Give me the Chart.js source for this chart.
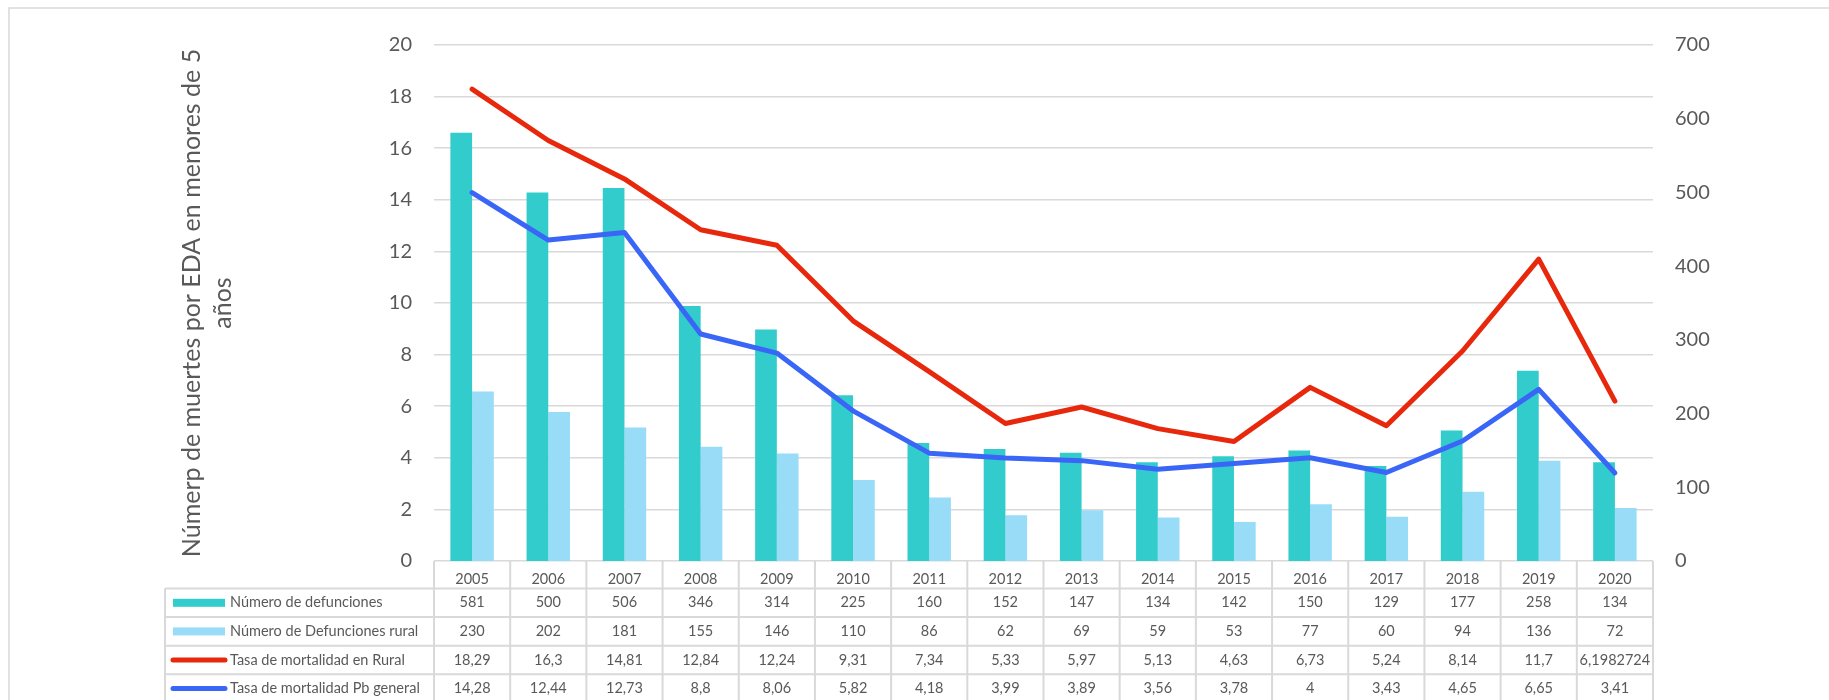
<!DOCTYPE html>
<html>
<head>
<meta charset="utf-8">
<script src="https://cdn.jsdelivr.net/npm/chart.js@4.4.0/dist/chart.umd.min.js"></script>
<style>
  body { margin: 0; background: #fff; }
  #wrap { width: 1829px; height: 700px; }
</style>
</head>
<body>
<div id="wrap"><canvas id="edaChart" width="1829" height="700"></canvas></div>
<script>
const years = ['2005', '2006', '2007', '2008', '2009', '2010', '2011', '2012', '2013', '2014', '2015', '2016', '2017', '2018', '2019', '2020'];
const defunciones = [581, 500, 506, 346, 314, 225, 160, 152, 147, 134, 142, 150, 129, 177, 258, 134];
const defuncionesRural = [230, 202, 181, 155, 146, 110, 86, 62, 69, 59, 53, 77, 60, 94, 136, 72];
const tasaRural = [18.29, 16.3, 14.81, 12.84, 12.24, 9.31, 7.34, 5.33, 5.97, 5.13, 4.63, 6.73, 5.24, 8.14, 11.7, 6.1982724];
const tasaGeneral = [14.28, 12.44, 12.73, 8.8, 8.06, 5.82, 4.18, 3.99, 3.89, 3.56, 3.78, 4, 3.43, 4.65, 6.65, 3.41];

const FONT = 'Lato, "Open Sans", sans-serif';
const TEXT = '#595959';
const GRID = '#d9d9d9';

// tabla de datos debajo del gráfico (como en Excel)
const dataTable = {
    id: 'dataTable',
    beforeDraw(chart) {
        const ctx = chart.ctx;
        ctx.save();
        ctx.fillStyle = '#fff';
        ctx.fillRect(0, 0, chart.width, chart.height);
        // marco del gráfico
        ctx.strokeStyle = GRID;
        ctx.lineWidth = 1.5;
        ctx.beginPath();
        ctx.moveTo(9, chart.height);
        ctx.lineTo(9, 8);
        ctx.lineTo(chart.width, 8);
        ctx.stroke();
        ctx.restore();
    },
    afterDraw(chart) {
        const ctx = chart.ctx;
        const area = chart.chartArea;
        const colW = (area.right - area.left) / years.length;
        const legendLeft = 165;
        const headerH = 27.5;
        const rowH = 28.6;
        const top = area.bottom;
        const bottom = top + headerH + rowH * 4;

        ctx.save();
        ctx.strokeStyle = GRID;
        ctx.lineWidth = 2;
        ctx.beginPath();
        for (let i = 0; i <= years.length; i++) {
            const x = area.left + i * colW;
            ctx.moveTo(x, top);
            ctx.lineTo(x, bottom);
        }
        ctx.moveTo(legendLeft, top + headerH);
        ctx.lineTo(legendLeft, bottom);
        for (let r = 0; r <= 4; r++) {
            const y = top + headerH + r * rowH;
            ctx.moveTo(legendLeft, y);
            ctx.lineTo(area.right, y);
        }
        ctx.stroke();

        ctx.font = '14.5px ' + FONT;
        ctx.fillStyle = TEXT;
        ctx.textBaseline = 'middle';

        chart.data.datasets.forEach((ds, r) => {
            const cy = top + headerH + r * rowH + rowH / 2;

            // clave de la serie
            if (ds.type === 'bar') {
                ctx.fillStyle = ds.backgroundColor;
                ctx.fillRect(173, cy - 4, 52, 8);
            } else {
                ctx.strokeStyle = ds.borderColor;
                ctx.lineWidth = 5;
                ctx.lineCap = 'round';
                ctx.beginPath();
                ctx.moveTo(173, cy);
                ctx.lineTo(225, cy);
                ctx.stroke();
            }
            ctx.fillStyle = TEXT;
            ctx.textAlign = 'left';
            ctx.fillText(ds.label, 230, cy);

            ctx.textAlign = 'center';
            ds.data.forEach((v, i) => {
                const cx = chart.scales.x.getPixelForValue(i);
                ctx.fillText(String(v).replace('.', ','), cx, cy);
            });
        });
        ctx.restore();
    }
};

const ctx = document.getElementById('edaChart').getContext('2d');
new Chart(ctx, {
    data: {
        labels: years,
        datasets: [
            {
                type: 'bar',
                label: 'Número de defunciones',
                data: defunciones,
                backgroundColor: '#33CCCC',
                yAxisID: 'y1',
                order: 2,
                categoryPercentage: 0.57,
                barPercentage: 1
            },
            {
                type: 'bar',
                label: 'Número de Defunciones rural',
                data: defuncionesRural,
                backgroundColor: '#99DCF7',
                yAxisID: 'y1',
                order: 2,
                categoryPercentage: 0.57,
                barPercentage: 1
            },
            {
                type: 'line',
                label: 'Tasa de mortalidad en Rural',
                data: tasaRural,
                borderColor: '#E8280C',
                borderWidth: 5,
                borderCapStyle: 'round',
                borderJoinStyle: 'round',
                pointRadius: 0,
                tension: 0,
                yAxisID: 'y',
                order: 1
            },
            {
                type: 'line',
                label: 'Tasa de mortalidad Pb general',
                data: tasaGeneral,
                borderColor: '#3A66F7',
                borderWidth: 5,
                borderCapStyle: 'round',
                borderJoinStyle: 'round',
                pointRadius: 0,
                tension: 0,
                yAxisID: 'y',
                order: 0
            }
        ]
    },
    options: {
        responsive: false,
        animation: false,
        layout: { padding: { left: 176, top: 45, right: 0, bottom: 0 } },
        plugins: {
            legend: { display: false },
            tooltip: { enabled: false }
        },
        scales: {
            x: {
                grid: { display: false },
                border: { display: false },
                ticks: { color: TEXT, font: { family: FONT, size: 14.5 }, padding: 2, maxRotation: 0 },
                afterFit(scale) { scale.height = 139; }
            },
            y: {
                position: 'left',
                min: 0,
                max: 20,
                ticks: { stepSize: 2, padding: 22, color: TEXT, font: { family: FONT, size: 20 } },
                grid: { color: GRID, lineWidth: 1.5, drawTicks: false },
                border: { display: false },
                title: {
                    display: true,
                    text: ['Númerp de muertes por EDA en menores de 5', 'años'],
                    color: TEXT,
                    font: { family: FONT, size: 25, lineHeight: 1.25 },
                    padding: 0
                },
                afterFit(scale) { scale.width = 258; }
            },
            y1: {
                position: 'right',
                min: 0,
                max: 700,
                ticks: { stepSize: 100, padding: 22, color: TEXT, font: { family: FONT, size: 20 } },
                grid: { display: false, drawTicks: false },
                border: { display: false },
                afterFit(scale) { scale.width = 176; }
            }
        }
    },
    plugins: [dataTable]
});
</script>
</body>
</html>
